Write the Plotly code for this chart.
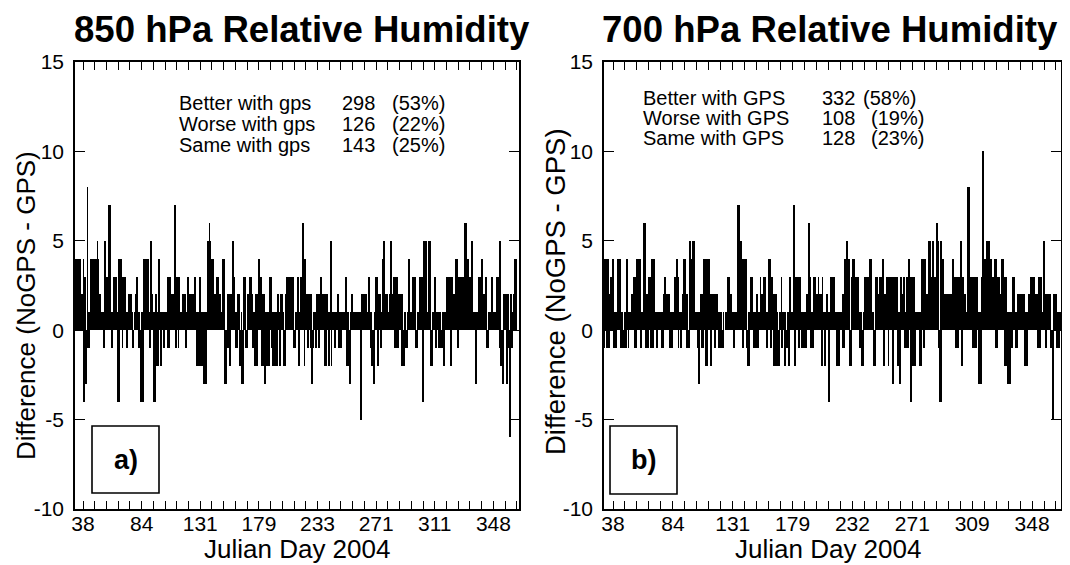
import plotly.graph_objects as go

FONT = "Liberation Sans, Arial, Helvetica, sans-serif"
# the page body adds an 8 px margin, so the figure is drawn 8 px smaller
OFF = 8
W, H = 1070 - OFF, 565 - OFF

# x axis labels (Julian day) and the sample index they sit under
day_labels_850 = ["38", "84", "131", "179", "233", "271", "311", "348"]
day_ticks_850 = [9.3, 84.7, 160.1, 235.5, 310.9, 386.3, 461.7, 537.1]
day_labels_700 = ["38", "84", "131", "179", "232", "271", "309", "348"]
day_ticks_700 = [10.7, 85.1, 159.5, 233.9, 308.3, 382.7, 457.1, 531.5]

y_ticks = [-10, -5, 0, 5, 10, 15]
y_labels = ["-10", "-5", "0", "5", "10", "15"]

# RH difference (NoGPS - GPS), one value per analysis time
rh850_diff = [
    4, 4, 4, 4, 4, 4, 2, 1, 2, 0, 4, -4, 3, -3, -1, 8, 1, -1, 1,
    4, 3, 4, 4, 1, 4, 4, 3, 4, 5, 4, 1, 2, 1, 1, 0, 1, -1, -1, 5,
    3, 3, 1, 1, 7, 7, 1, 0, -1, 1, 3, 1, 3, 3, 1, -4, 4, -4, 4, 4, 3,
    -1, 3, 3, 1, 3, 1, -1, 1, 2, 2, 1, 2, 1, 1, -1, 0, 1, 2, 1, 3, 1,
    -1, 1, 0, -4, 1, -4, 1, 4, 4, 1, 4, 3, 4, 1, -1, 1, 5, 2, 1,
    -4, 1, -4, 2, -2, 1, -2, 4, 1, -2, -2, 1, 1, -1, 1, 0, 1, 1, -1,
    3, -1, 3, 2, 1, 2, 2, 1, 7, 7, -1, 3, 3, -1, 3, 1, 1, 1, 0,
    2, 2, 1, 2, -1, 1, 3, 3, 2, 2, 1, 2, 2, 1, 2, 3, 3, 1, -2, 1, -2,
    3, 3, -2, 1, -2, 1, -3, 1, -3, 1, 0, 5, 1, 6, 5, 4, 4, 4,
    2, 2, 1, 2, 2, 3, 3, 1, 2, 2, 1, 1, 4, 1, 4, -3, -3,
    -1, 2, -1, 2, -2, 2, 2, 1, 5, 3, 3, 1, -1, 1, -1, 2, 2, -2, -2, 1,
    -3, -3, 3, 3, 3, -1, -1, 2, 2, 1, 3, 3, 2, 2, -1, 1, -2, -1,
    2, -2, 2, 4, 4, 3, 3, -2, 2, -2, 2, -3, 1, 1, -2, 1, -2, 1,
    3, 3, -1, 1, -2, 1, -2, 1, 1, -2, 2, 1, -2, -2, 2, 1, 2, 1, -2,
    -2, 2, 1, 3, 3, 3, 3, 2, 3, 3, 1, 3, -1, -1, 1, 1, 1, 3, -2, 1,
    3, 3, 1, 6, 6, -2, 4, 1, 2, 2, -1, 2, 2, -1, 2, -3, -1, 1, 1, 1, -1,
    2, 2, 2, -1, 2, 3, 2, 2, 2, 2, -2, 2, -2, 2, 1, 1, -2, 1, 5, -2, 1,
    1, 1, -1, 1, 1, 1, 2, 2, -1, 1, -1, 1, 1, 1, 1, 1, 3, 3, -2, 1,
    -2, -3, -3, 1, 2, 2, 1, 1, 1, 1, 1, 1, 1, 0, 1, 1, -5, 2, 2, 1,
    2, 1, 2, 1, 1, 1, 3, 1, -1, 1, -2, -2, -3, -3, 1, 3, 3, -2, -2, 2,
    2, 1, -1, 1, 4, 5, 5, 2, 2, 2, 2, 1, 1, 2, 5, 5, 2, 2, 3, -1, 3, -1,
    3, -1, 2, 2, 2, 2, -2, 2, -2, -2, 1, 1, -1, -1, 1, 4, 4,
    1, 1, 1, 3, 3, 3, 3, 3, -1, -1, 1, 1, 1, 3, 3, 3, -4,
    -4, 5, 5, 5, 1, 1, 1, 5, 5, 5, -2, -2, 1, 1, 1, 3, -1,
    -1, 1, 1, -1, 1, -1, -1, -1, 1, -2, -2, 1, 1, 3, 3, 3, 3, 3, -2,
    -2, 3, 1, 2, 2, 2, 4, 4, -1, -1, 3, 3, 3, 3, 3, 3, 2,
    2, 6, 6, 4, 4, 4, 3, 3, 3, 5, 5, 1, 1, 1, -3, -3, 1, 1,
    1, 3, 3, 3, 4, 4, 2, 2, 2, 3, 3, -1, -1, 1, 1, 1, 1, 3, 3, 1, 1,
    1, 1, 0, 3, 3, 3, -1, 5, -2, -2, -3, -3, 2, 2, 2, -3, -3,
    2, -1, -6, -6, 2, -1, 1, 2, 2, 4, 4,
]

rh700_diff = [
    -1, 4, 4, -1, 4, 2, -1, 2, 3, 3, 4, 4, -1, 1, -1, 1, 1, 4, 4, 4, 1,
    -1, 1, -1, -1, -1, 1, -1, 4, 1, -1, 1, 1, 1, 2, 2, 2, 3,
    -1, 3, -1, 4, 4, 4, 4, -1, 1, 1, 1, 6, 6, 2, -1, 2, -1,
    3, 3, 3, -1, 4, -1, 4, 4, 1, 1, -1, 1, 1, 1, 1, 1, -1, 1,
    -1, 2, 3, 2, 2, 2, 2, 2, 2, -1, 1, -1, 1, 0, 1, 3, 3, 4, 3,
    -1, 1, 1, -1, 1, 2, 2, 4, 4, 2, -1, 2, -1, -1, 5, 4, 4, 4, 5, 5, 1,
    1, 1, 1, -1, 1, -3, 1, 2, -1, 2, -1, 4, 4, -2, 4, -2, 4, 4,
    2, -2, 2, 2, 2, 2, -1, 2, 2, 2, 1, -1, 1, -1, 1, -1, -1, 1, 0, 0,
    1, 1, 1, 3, 3, 1, 2, 2, 1, 1, -1, 1, 1, 1, 1, 7, 7, 5, 5, 5,
    4, -1, 4, 4, 4, 4, -1, -2, 1, -2, 1, 3, 3, 1, 1, -1, 1, -1, 2,
    2, -1, 1, 1, 3, 2, 2, 2, 3, 3, 3, 1, -1, 1, 3, 4, 4, -1, 3, 3, 2,
    -2, 2, -2, 2, 1, -2, -2, 1, 1, 3, -1, 1, 1, -2, 1, -1, -1, 1, -2, 1,
    3, 1, 1, 1, 1, 7, -2, 3, 3, 3, 3, -1, 3, 1, -1, 1, -1, 1,
    -1, 1, -1, 2, 2, 6, 3, 3, -1, 1, -1, 3, 3, 3, 1, 2, 2, 3, 2, 2,
    2, -2, 3, 1, 1, -2, 1, 1, 2, 1, -4, 1, 1, 3, 3, 3, 3, 3,
    1, 1, -2, 1, 1, -2, 1, 1, 1, -1, 2, -1, 4, 4, 5, 5, 4, 4, -2, -2,
    3, 3, 4, 4, 3, 3, 3, 3, 3, 1, 1, -1, 1, -2, -2, -1, 1,
    3, 3, 3, 3, 3, 3, 4, 4, 4, 1, 1, -2, -2, 3, 3, 3, 2, 2, 2, 3, 3,
    3, 4, 4, -2, 2, 2, 3, 3, -2, 3, 3, 3, 3, 3, -3, 3, 3, 3, 3,
    3, -2, 1, -3, 3, 3, 2, 2, 3, -1, 1, -1, 3, -1, 3, 4, 3, -4, 3,
    3, -2, 3, -2, 1, 1, 1, 1, 1, -2, 1, -2, 4, 4, -1, 4, 2, 2, 2, 1,
    5, 1, 5, 3, 3, 5, 3, 3, 3, 3, 6, 6, 5, -1, -4, 5, -4, 4,
    4, 1, 2, 2, 2, 2, 2, 2, 2, 2, 2, 2, 4, 4, 3, 3, -1, 3, -1,
    3, 3, 3, 5, -2, 3, 3, 2, 2, 1, 1, 1, 8, 8, 1, 3, 3, 3, -1,
    3, -1, 3, -1, 3, 1, 1, -3, 1, -3, 3, 10, 10, 4, 4, 4,
    4, 5, 5, 5, 4, 4, 4, 3, 3, 3, 4, -1, 4, -1, 3, 3, 2, 2, 2,
    4, 4, 4, 3, -2, 3, -2, 1, -3, 1, -3, 1, 1, -1, 3, 3, 1, -1, 1, -1,
    2, 2, 1, 2, 1, 2, 1, 2, 2, -2, 1, -2, 1, 2, 2, 2, 3, 3, 3, 3, 3,
    2, 2, 2, 2, -1, 3, -1, 3, 3, 1, 1, 5, 5, 2, -1, 2, 2, 2, 2, 2,
    -1, -1, -5, -5, 2, 2, 2, 1, -1, 1, -1, 1, 1,
]

panels = [
    dict(
        values=rh850_diff, ticks=day_ticks_850, labels=day_labels_850,
        xrange=[-1, 570], left=75, right=519,
        title="850 hPa Relative Humidity", title_x=302, tag="a)",
        stats=[("Better with gps", "298", "(53%)"),
               ("Worse with gps", "126", "(22%)"),
               ("Same with gps", "143", "(25%)")],
        col_x=[177, 340, 390], row_y=[103, 124, 145], pct_shift=[0, 0, 0],
        box=(92, 426, 159, 493), ytitle=(26, 306, 26),
        xtitle=(297, 549),
    ),
    dict(
        values=rh700_diff, ticks=day_ticks_700, labels=day_labels_700,
        xrange=[-0.5, 567.5], left=604, right=1061,
        title="700 hPa Relative Humidity", title_x=830, tag="b)",
        stats=[("Better with GPS", "332", "(58%)"),
               ("Worse with GPS", "108", "(19%)"),
               ("Same with GPS", "128", "(23%)")],
        col_x=[641, 820, 861], row_y=[98, 118, 138], pct_shift=[0, 8, 8],
        box=(610, 426, 677, 494), ytitle=(555, 292, 27.5),
        xtitle=(828, 549),
    ),
]

TOP, BOTTOM = 62, 509


def px(x):
    return (x - OFF) / W


def py(y):
    return 1 - (y - OFF) / H


def text(txt, x, y, size, anchor="center", angle=0):
    return dict(
        text=txt, x=px(x), y=py(y), xref="paper", yref="paper",
        xanchor=anchor, yanchor="middle", showarrow=False, textangle=angle,
        font=dict(family=FONT, size=size, color="black"),
    )


fig = go.Figure()
annotations = []
shapes = []

for i, p in enumerate(panels):
    n = i + 1
    xa = "x" if n == 1 else f"x{n}"
    ya = "y" if n == 1 else f"y{n}"
    suffix = "" if n == 1 else str(n)

    fig.add_trace(go.Bar(
        x=list(range(len(p["values"]))),
        y=p["values"],
        width=1.0,
        marker=dict(color="black", line=dict(width=0)),
        xaxis=xa,
        yaxis=ya,
        showlegend=False,
        hoverinfo="skip",
    ))

    step = (p["ticks"][-1] - p["ticks"][0]) / (len(p["ticks"]) - 1)
    fig.layout["xaxis" + suffix] = dict(
        domain=[px(p["left"]), px(p["right"])],
        anchor=ya, automargin=False,
        range=p["xrange"],
        showline=True, linecolor="black", linewidth=1.6, mirror="ticks",
        ticks="inside", ticklen=8, tickwidth=1.3, tickcolor="black",
        tickvals=p["ticks"], ticktext=p["labels"],
        ticklabelstandoff=-5,
        tickfont=dict(family=FONT, size=21, color="black"),
        showgrid=False, zeroline=False,
        minor=dict(ticks="inside", ticklen=8, tickwidth=1.3, tickcolor="black",
                   tick0=p["ticks"][0], dtick=step / 5, showgrid=False),
    )
    fig.layout["yaxis" + suffix] = dict(
        domain=[py(BOTTOM), py(TOP)],
        anchor=xa, automargin=False,
        range=[-10, 15],
        tickvals=y_ticks, ticktext=y_labels,
        showline=True, linecolor="black", linewidth=1.6, mirror="ticks",
        ticks="inside", ticklen=10, tickwidth=1.3, tickcolor="black",
        ticklabelstandoff=5,
        tickfont=dict(family=FONT, size=21, color="black"),
        showgrid=False, zeroline=False,
    )

    annotations.append(text(f"<b>{p['title']}</b>", p["title_x"], 30, 36.6))
    annotations.append(text("Julian Day 2004", p["xtitle"][0], p["xtitle"][1], 26))
    ty = p["ytitle"]
    annotations.append(text("Difference (NoGPS - GPS)", ty[0], ty[1], ty[2], angle=-90))

    for row, (label, count, pct) in enumerate(p["stats"]):
        yy = p["row_y"][row]
        annotations.append(text(label, p["col_x"][0], yy, 20, "left"))
        annotations.append(text(count, p["col_x"][1], yy, 20, "left"))
        annotations.append(text(pct, p["col_x"][2] + p["pct_shift"][row], yy, 20, "left"))

    x0, y0, x1, y1 = p["box"]
    shapes.append(dict(
        type="rect", xref="paper", yref="paper",
        x0=px(x0), x1=px(x1), y0=py(y1), y1=py(y0),
        line=dict(color="black", width=1.6), fillcolor="white",
    ))
    annotations.append(text(f"<b>{p['tag']}</b>", (x0 + x1) / 2, (y0 + y1) / 2, 27))

fig.update_layout(
    width=W,
    height=H,
    margin=dict(l=0, r=0, t=0, b=0),
    paper_bgcolor="white",
    plot_bgcolor="white",
    bargap=0,
    annotations=annotations,
    shapes=shapes,
    font=dict(family=FONT, color="black"),
)

fig.write_html("out.html")
